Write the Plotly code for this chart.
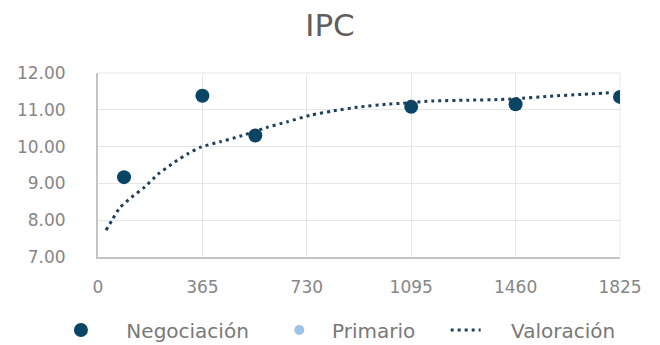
import plotly.graph_objects as go

# Data
neg_days = [91, 365, 550, 1095, 1460, 1825]
neg_rates = [9.17, 11.38, 10.30, 11.08, 11.15, 11.35]

val_days = [28, 52, 76, 117, 163, 210, 268, 315, 361, 427, 496, 590, 660, 741, 823,
            916, 1009, 1066, 1173, 1289, 1406, 1458, 1580, 1696, 1801]
val_rates = [7.73, 8.04, 8.34, 8.62, 8.90, 9.25, 9.58, 9.81, 9.99, 10.13, 10.28, 10.52,
             10.67, 10.85, 10.97, 11.08, 11.15, 11.18, 11.24, 11.26, 11.28, 11.30,
             11.37, 11.42, 11.47]

prim_days = [None]
prim_rates = [None]

x_ticks = [0, 365, 730, 1095, 1460, 1825]
y_ticks = [7, 8, 9, 10, 11, 12]

FONT = "DejaVu Sans"
GRAY = "#868686"
NB = "\u00a0"

fig = go.Figure()
fig.add_trace(go.Scatter(
    x=neg_days, y=neg_rates, mode="markers", name=NB * 4 + "Negociación" + NB * 4,
    marker=dict(color="#0b4566", size=14),
))
fig.add_trace(go.Scatter(
    x=prim_days, y=prim_rates, mode="markers", name=NB * 2 + "Primario" + NB * 4,
    marker=dict(color="#9dc3e6", size=10),
))
fig.add_trace(go.Scatter(
    x=val_days, y=val_rates, mode="lines", name=NB * 4 + "Valoración",
    line=dict(color="#1f3f5b", width=3, dash="3px,4px", shape="spline", smoothing=0.6),
))

fig.update_layout(
    width=660, height=345,
    margin=dict(l=98, r=40, t=73, b=88, autoexpand=False),
    paper_bgcolor="white", plot_bgcolor="white",
    font=dict(family=FONT, color=GRAY, size=17),
    title=dict(text="IPC", x=0.5, xanchor="center", xref="container",
               y=1 - 25 / 345, yanchor="middle", yref="container",
               font=dict(family=FONT, size=31, color="#5f5f5f")),
    showlegend=True,
    legend=dict(orientation="h", x=-0.071, xanchor="left", y=-0.397, yanchor="middle",
                font=dict(family=FONT, size=20, color="#787878"),
                bgcolor="rgba(0,0,0,0)"),
)
fig.update_xaxes(
    range=[0, 1825], tickmode="array", tickvals=x_ticks,
    ticktext=[str(v) for v in x_ticks],
    showgrid=True, gridcolor="#e6e6e6", gridwidth=1,
    showline=True, linecolor="#c4c4c4", linewidth=2,
    zeroline=False, ticks="outside", ticklen=14, tickcolor="rgba(0,0,0,0)",
    tickfont=dict(size=17, color=GRAY), automargin=False,
)
fig.update_yaxes(
    range=[7, 12], tickmode="array", tickvals=y_ticks,
    ticktext=[f"{v:.2f}" for v in y_ticks],
    showgrid=True, gridcolor="#e6e6e6", gridwidth=1,
    showline=True, linecolor="#c4c4c4", linewidth=2,
    zeroline=False, ticks="outside", ticklen=27, tickcolor="rgba(0,0,0,0)",
    tickfont=dict(size=17, color=GRAY), automargin=False,
)
fig.update_layout(shapes=[
    dict(type="line", xref="paper", yref="paper", x0=1, x1=1, y0=0, y1=1,
         line=dict(color="#e6e6e6", width=1), layer="below"),
    dict(type="line", xref="paper", yref="paper", x0=0, x1=1, y0=1, y1=1,
         line=dict(color="#e6e6e6", width=1), layer="below"),
])

fig.write_html("out.html", config={"displayModeBar": False},
               post_script="document.body.style.margin='0';document.body.style.overflow='hidden';")
